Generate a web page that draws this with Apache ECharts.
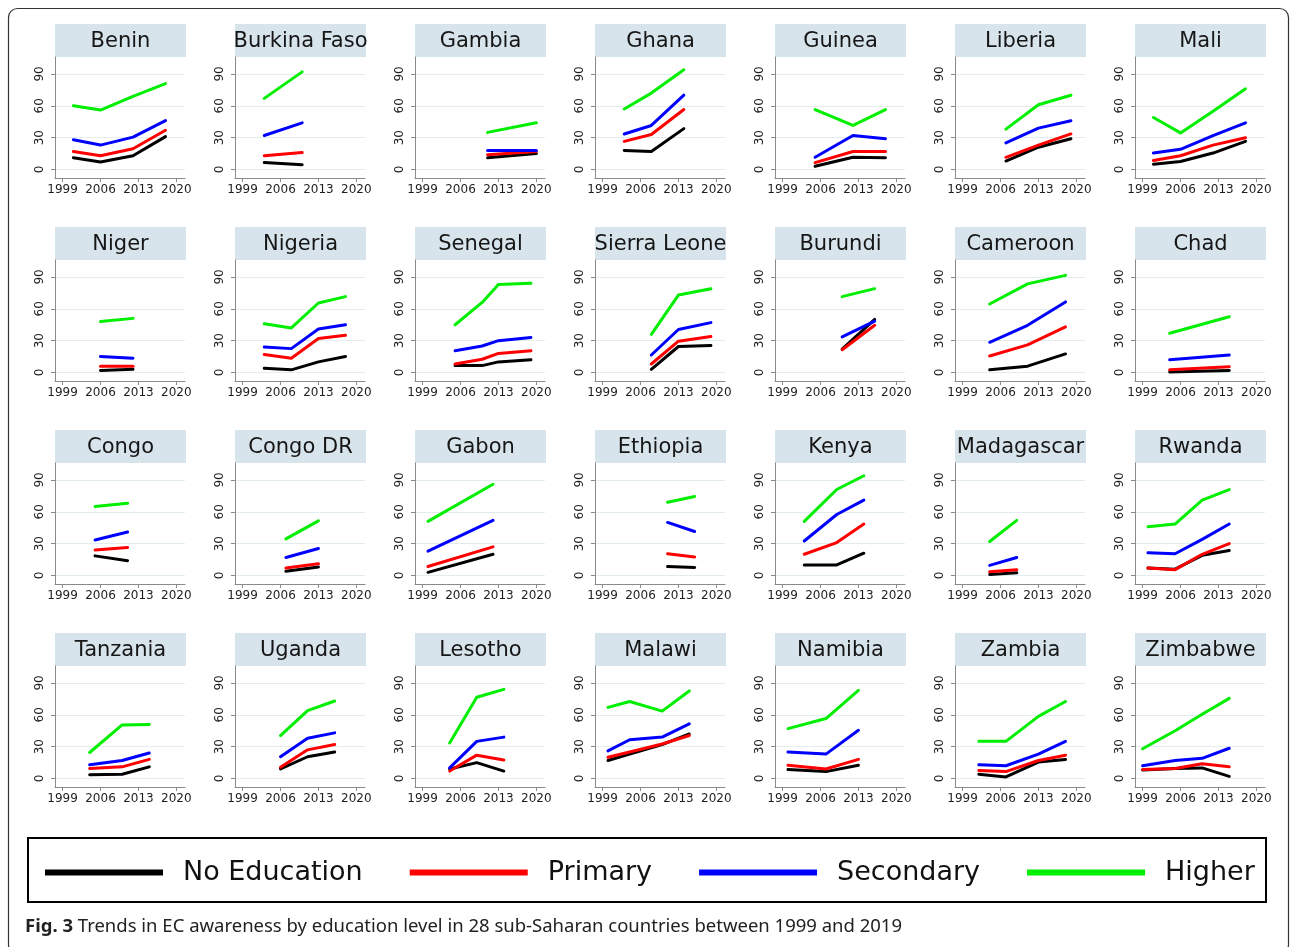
<!DOCTYPE html>
<html>
<head>
<meta charset="utf-8">
<script src="https://cdn.jsdelivr.net/npm/echarts@6/dist/echarts.min.js"></script>
<style>
  html, body { margin: 0; padding: 0; background: #ffffff; }
  #chart { width: 1292px; height: 947px; }
</style>
</head>
<body>
<div id="chart"></div>
<script>
// Awareness of emergency contraception (%) by education level, DHS rounds 1999-2019
const countries = [
  'Benin', 'Burkina Faso', 'Gambia', 'Ghana', 'Guinea', 'Liberia', 'Mali',
  'Niger', 'Nigeria', 'Senegal', 'Sierra Leone', 'Burundi', 'Cameroon', 'Chad',
  'Congo', 'Congo DR', 'Gabon', 'Ethiopia', 'Kenya', 'Madagascar', 'Rwanda',
  'Tanzania', 'Uganda', 'Lesotho', 'Malawi', 'Namibia', 'Zambia', 'Zimbabwe'
];

const surveyYears = [
  [2001, 2006, 2012, 2018], [2003, 2010], [2011, 2020], [2003, 2008, 2014],
  [2005, 2012, 2018], [2007, 2013, 2019], [2001, 2006, 2012, 2018],
  [2006, 2012], [2003, 2008, 2013, 2018], [2005, 2010, 2013, 2019], [2008, 2013, 2019],
  [2010, 2016], [2004, 2011, 2018], [2004, 2015],
  [2005, 2011], [2007, 2013], [2000, 2012], [2011, 2016],
  [2003, 2009, 2014], [2004, 2009], [2000, 2005, 2010, 2015],
  [2004, 2010, 2015], [2006, 2011, 2016], [2004, 2009, 2014],
  [2000, 2004, 2010, 2015], [2000, 2007, 2013], [2002, 2007, 2013, 2018], [1999, 2005, 2010, 2015]
];

const noEducation = [
  [11, 7, 13, 31], [6.5, 4.5], [11, 15], [18, 17, 38.5],
  [3, 11.5, 11], [8, 21, 29], [5, 7.5, 15.5, 26.5],
  [2, 3], [4, 2.5, 10, 15], [6.5, 6.5, 10, 12], [3, 24.5, 25.5],
  [22, 50], [2.5, 6, 17.5], [0.5, 2],
  [18.5, 14], [4, 8], [3, 20], [8.5, 7.5],
  [10, 10, 21], [1, 2.5], [7, 6, 19, 23.5],
  [3.5, 4, 11], [9, 20.5, 25], [9, 15, 7],
  [17, 23, 32, 42], [8.5, 6.5, 12.5], [4, 1.5, 15.5, 18], [8, 9.5, 10, 2]
];

const primary = [
  [17, 13, 19.5, 37], [13, 16], [14, 17], [26.5, 33, 56.5],
  [6.5, 17, 17], [11.5, 23, 33.5], [8.5, 13, 23, 30],
  [6, 6], [17, 13.5, 32, 35], [8, 12.5, 18, 20.5], [8, 29.5, 34],
  [21.5, 44.5], [15.5, 26, 43], [2.5, 5.5],
  [24, 26.5], [7, 11], [8.5, 27], [20.5, 17.5],
  [20, 31, 48.5], [3.5, 5.5], [7, 5.5, 20, 30],
  [9.5, 11, 18], [10.5, 27, 32], [7, 22, 17.5],
  [20, 25, 32.5, 40.5], [12.5, 9, 18], [7.5, 6.5, 17, 22], [8.5, 9.5, 14, 11]
];

const secondary = [
  [28, 23, 30.5, 46], [32, 44], [18, 18], [33.5, 41.5, 70],
  [11.5, 32, 29], [25, 39, 46], [15.5, 19, 32, 44],
  [15, 13.5], [24, 22.5, 41, 45], [20.5, 25, 30, 33], [16.5, 40.5, 47],
  [33.5, 48.5], [28.5, 44.5, 66.5], [12, 16.5],
  [33.5, 41], [17, 25.5], [23, 52], [50, 41.5],
  [32.5, 57.5, 71], [9.5, 17], [21.5, 20.5, 34, 48.5],
  [13, 17, 24], [20.5, 38, 43], [10, 35, 39],
  [26, 36.5, 39, 51.5], [25, 23, 45.5], [13, 12, 23, 35], [12, 17, 19, 28.5]
];

const higher = [
  [60, 56, 69, 81], [67, 92], [35, 44], [57, 72, 94],
  [56.5, 41.5, 56.5], [38, 61, 70], [49, 34.5, 55, 76],
  [48, 51], [46, 42, 65.5, 71.5], [45, 66, 83, 84], [36, 73, 79],
  [71.5, 79], [64.5, 83.5, 91.5], [37, 52.5],
  [65, 68], [34.5, 51.5], [51, 86], [69, 74.5],
  [51, 81, 94], [32, 52], [46, 48.5, 71, 81],
  [24.5, 50.5, 51], [40.5, 64, 73], [33.5, 76.5, 84],
  [67, 72.5, 63.5, 82.5], [47, 56.5, 83], [35, 35, 58.5, 72.5], [28, 45, 60.5, 75.5]
];

const levels = ['No Education', 'Primary', 'Secondary', 'Higher'];
const yearTicks = [1999, 2006, 2013, 2020];
const valueTicks = [0, 30, 60, 90];

// ---- presentation ----
const levelValues = [noEducation, primary, secondary, higher];
const levelColors = ['#000000', '#ff0000', '#0000ff', '#00ee00'];
const FONT = '"DejaVu Sans", Verdana, sans-serif';
const AXIS_GREY = '#8a8a8a';

const COLS = 7, COL_STEP = 180, ROW_STEP = 203;
const PLOT_LEFT = 55, PLOT_TOP = 57, PLOT_W = 130, PLOT_H = 121;
const STRIP_TOP = 24, STRIP_H = 33, STRIP_W = 131;

const grids = [], xAxes = [], yAxes = [], series = [], graphics = [];

countries.forEach((name, i) => {
  const r = Math.floor(i / COLS), c = i % COLS;
  const left = PLOT_LEFT + c * COL_STEP;
  const top = PLOT_TOP + r * ROW_STEP;

  grids.push({ left: left, top: top, width: PLOT_W, height: PLOT_H });

  xAxes.push({
    type: 'value', gridIndex: i, min: 1997.6, max: 2021.6,
    axisLine: { show: true, onZero: false, lineStyle: { color: AXIS_GREY, width: 1 } },
    axisTick: { show: true, customValues: yearTicks, length: 4, lineStyle: { color: AXIS_GREY } },
    axisLabel: { customValues: yearTicks, formatter: v => String(v), fontSize: 12,
                 fontFamily: FONT, color: '#1e1e1e', margin: 6 },
    splitLine: { show: false }
  });

  yAxes.push({
    type: 'value', gridIndex: i, min: -8, max: 106,
    axisLine: { show: true, onZero: false, lineStyle: { color: AXIS_GREY, width: 1 } },
    axisTick: { show: true, customValues: valueTicks, length: 4, lineStyle: { color: AXIS_GREY } },
    axisLabel: { customValues: valueTicks, rotate: 90, fontSize: 12, fontFamily: FONT,
                 color: '#1e1e1e', margin: 9 },
    splitLine: { show: true, lineStyle: { color: '#e3eded', width: 1 } }
  });

  levels.forEach((lvl, k) => {
    series.push({
      type: 'line', name: lvl, xAxisIndex: i, yAxisIndex: i,
      data: surveyYears[i].map((yr, j) => [yr, levelValues[k][i][j]]),
      symbol: 'none', silent: true, z: 2 + k,
      lineStyle: { color: levelColors[k], width: 3, cap: 'round', join: 'round' },
      itemStyle: { color: levelColors[k] }
    });
  });

  // country strip above each panel
  graphics.push({
    type: 'rect', silent: true,
    shape: { x: left, y: STRIP_TOP + r * ROW_STEP, width: STRIP_W, height: STRIP_H },
    style: { fill: '#d8e4eb' }
  });
  graphics.push({
    type: 'text', silent: true,
    x: left + STRIP_W / 2, y: STRIP_TOP + r * ROW_STEP + STRIP_H / 2 + 1,
    style: { text: name, font: '21px ' + FONT, fill: '#161616', align: 'center', verticalAlign: 'middle' }
  });
});

// outer frame, legend box and caption
graphics.push({
  type: 'rect', silent: true,
  shape: { x: 8.5, y: 8.5, width: 1280, height: 945, r: 9 },
  style: { fill: null, stroke: '#333333', lineWidth: 1.2 }
});
graphics.push({
  type: 'rect', silent: true,
  shape: { x: 28, y: 838, width: 1238, height: 64 },
  style: { fill: null, stroke: '#000000', lineWidth: 2 }
});
graphics.push({
  type: 'text', silent: true, x: 25, y: 927,
  style: {
    text: '{b|Fig. 3} {r|Trends in EC awareness by education level in 28 sub-Saharan countries between 1999 and 2019}',
    fontSize: 18.5, fontFamily: '"Noto Sans", sans-serif', fill: '#222222', verticalAlign: 'middle',
    rich: {
      b: { fontWeight: 'bold', fontSize: 18.5, fontFamily: '"Noto Sans", sans-serif', fill: '#222222' },
      r: { fontSize: 18.5, fontFamily: '"Noto Sans", sans-serif', fill: '#222222' }
    }
  }
});

const chart = echarts.init(document.getElementById('chart'), null, { renderer: 'canvas' });
chart.setOption({
  animation: false,
  backgroundColor: '#ffffff',
  grid: grids,
  xAxis: xAxes,
  yAxis: yAxes,
  series: series,
  legend: {
    data: levels, left: 40, top: 854, icon: 'rect',
    itemWidth: 118, itemHeight: 6, itemGap: 47,
    selectedMode: false,
    textStyle: { fontSize: 27, fontFamily: FONT, color: '#111111', padding: [0, 0, 0, 15] }
  },
  graphic: graphics
});
</script>
</body>
</html>
